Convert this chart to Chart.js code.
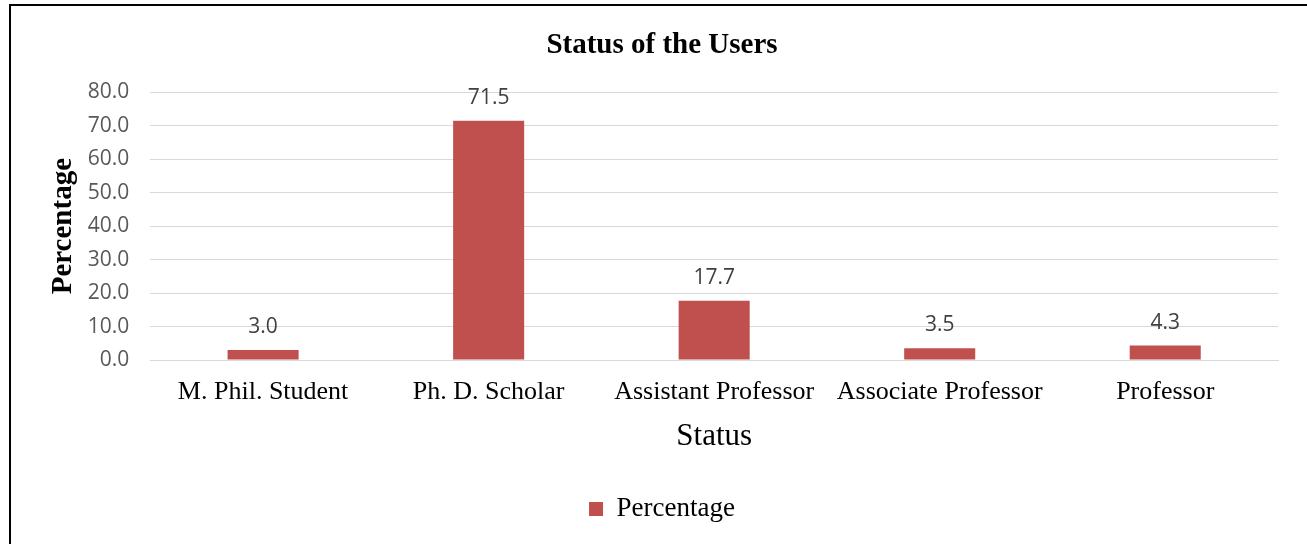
<!DOCTYPE html>
<html>
<head>
<meta charset="utf-8">
<script src="https://cdn.jsdelivr.net/npm/chart.js@4"></script>
<style>
  html, body { margin: 0; padding: 0; background: #fff; overflow: hidden; }
  #wrap { position: relative; width: 1307px; height: 544px; }
  #frame { position: absolute; left: 9px; top: 4px; width: 1310px; height: 560px; border: 2px solid #000; box-sizing: border-box; pointer-events: none; }
  canvas { position: absolute; left: 0; top: 0; }
</style>
</head>
<body>
<div id="wrap">
  <canvas id="myCanvas" width="1307" height="544"></canvas>
  <div id="frame"></div>
</div>
<script>
var categories = ['M. Phil. Student', 'Ph. D. Scholar', 'Assistant Professor', 'Associate Professor', 'Professor'];
var percentages = [3.0, 71.5, 17.7, 3.5, 4.3];
var yTicks = [0, 10, 20, 30, 40, 50, 60, 70, 80];

var serif = '"Liberation Serif", "Times New Roman", serif';
var sans = '"Open Sans", "Liberation Sans", sans-serif';

// value labels above the bars
var barLabels = {
  id: 'barLabels',
  afterDatasetsDraw: function(chart) {
    var ctx = chart.ctx;
    var meta = chart.getDatasetMeta(0);
    ctx.save();
    ctx.font = '21px ' + sans;
    ctx.fillStyle = '#404040';
    ctx.textAlign = 'center';
    ctx.textBaseline = 'middle';
    meta.data.forEach(function(bar, i) {
      ctx.fillText(chart.data.datasets[0].data[i].toFixed(1), bar.x, bar.y - 23);
    });
    ctx.restore();
  }
};

var data = {
  labels: categories,
  datasets: [
    {
      label: 'Percentage',
      data: percentages,
      backgroundColor: '#C0504D',
      borderWidth: 0,
      categoryPercentage: 1,
      barPercentage: 0.315
    }
  ]
};

var options = {
  responsive: false,
  animation: false,
  layout: {
    padding: { top: 18, left: 46, right: 29, bottom: 11.6 }
  },
  plugins: {
    title: {
      display: true,
      text: 'Status of the Users',
      color: '#000',
      font: { family: serif, size: 29, weight: 'bold' },
      padding: { top: 10, bottom: 29.5 }
    },
    legend: {
      display: true,
      position: 'bottom',
      labels: {
        boxWidth: 14,
        boxHeight: 14,
        color: '#000',
        font: { family: serif, size: 27 },
        padding: 10
      }
    },
    tooltip: { enabled: false }
  },
  scales: {
    x: {
      grid: { display: false, drawTicks: false },
      border: { display: true, color: '#d9d9d9' },
      ticks: {
        color: '#000',
        font: { family: serif, size: 26 },
        padding: 17,
        maxRotation: 0
      },
      title: {
        display: true,
        text: 'Status',
        color: '#000',
        font: { family: serif, size: 31 },
        padding: { top: -7, bottom: 30 }
      }
    },
    y: {
      min: 0,
      max: 80,
      afterBuildTicks: function(axis) {
        axis.ticks = yTicks.map(function(v) { return { value: v }; });
      },
      grid: { color: '#d9d9d9', drawTicks: false },
      border: { display: false },
      ticks: {
        color: '#595959',
        font: { family: sans, size: 21 },
        padding: 21,
        callback: function(v) { return Number(v).toFixed(1); }
      },
      title: {
        display: true,
        text: 'Percentage',
        color: '#000',
        font: { family: serif, size: 29, weight: 'bold' },
        padding: { top: 0, bottom: -14 }
      }
    }
  }
};

var chart = new Chart(document.getElementById('myCanvas'), {
  type: 'bar',
  data: data,
  options: options,
  plugins: [barLabels]
});
</script>
</body>
</html>
